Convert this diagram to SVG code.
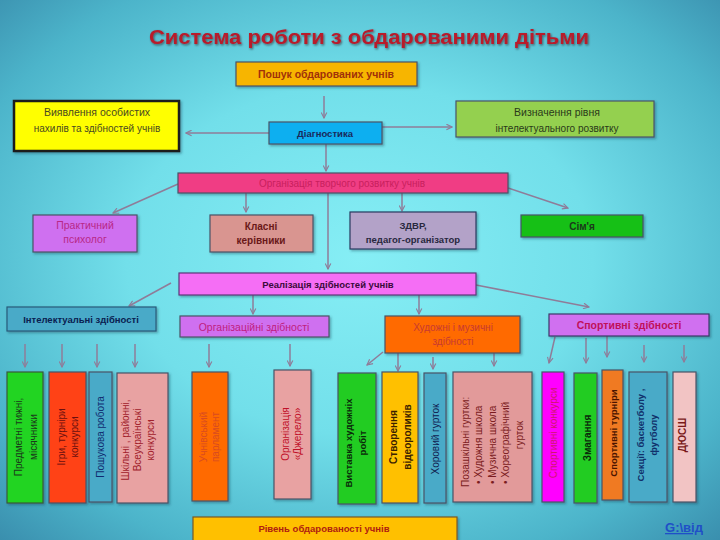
<svg xmlns="http://www.w3.org/2000/svg" width="720" height="540" viewBox="0 0 720 540">
<defs>
<radialGradient id="bg" cx="50%" cy="48%" r="72%">
<stop offset="0" stop-color="#86eef5"/>
<stop offset="0.45" stop-color="#72dfea"/>
<stop offset="0.8" stop-color="#4cb4ca"/>
<stop offset="1" stop-color="#3a8fae"/>
</radialGradient>
<filter id="sh" x="-10%" y="-10%" width="130%" height="140%">
<feDropShadow dx="1.5" dy="1.5" stdDeviation="1.2" flood-color="#1a3a4a" flood-opacity="0.4"/>
</filter>
<filter id="tsh" x="-5%" y="-20%" width="110%" height="150%">
<feDropShadow dx="1" dy="1.2" stdDeviation="0.8" flood-color="#2a0a0a" flood-opacity="0.6"/>
</filter>
<marker id="ah" viewBox="0 0 10 10" refX="9" refY="5" markerWidth="7" markerHeight="7" markerUnits="userSpaceOnUse" orient="auto">
<path d="M1,1 L9,5 L1,9" fill="none" stroke="#8f7c98" stroke-width="1.6"/>
</marker>
</defs>
<style>
text{font-family:"Liberation Sans","DejaVu Sans",sans-serif;font-size:10px;text-anchor:middle}
.b{font-weight:bold}
.box{stroke:#4a5468;stroke-width:1.2;filter:url(#sh)}
.con path{fill:none;stroke:#8f7c98;stroke-width:1.5;marker-end:url(#ah)}
.v{text-anchor:middle}
</style>
<rect width="720" height="540" fill="url(#bg)"/>
<text x="369" y="44" class="b" style="font-size:21px" fill="#b81a2c" filter="url(#tsh)" textLength="440" lengthAdjust="spacingAndGlyphs">Система роботи з обдарованими дітьми</text>

<g id="connectors" class="con">
<path d="M324,96 L324,118"/>
<path d="M269,133 L186,133"/>
<path d="M382,127 L452,127"/>
<path d="M326,144 L326,171"/>
<path d="M178,184 L113,213"/>
<path d="M246,193 L246,212"/>
<path d="M402,193 L402,211"/>
<path d="M508,188 L568,208"/>
<path d="M328,193 L328,269"/>
<path d="M171,283 L129,306"/>
<path d="M253,295 L253,314"/>
<path d="M419,295 L419,314"/>
<path d="M476,285 L589,307"/>
<path d="M25,344 L25,367"/>
<path d="M62,344 L62,367"/>
<path d="M97,344 L97,367"/>
<path d="M135,344 L135,367"/>
<path d="M209,344 L209,367"/>
<path d="M290,344 L290,366"/>
<path d="M383,352 L367,365"/>
<path d="M398,353 L398,371"/>
<path d="M433,357 L433,369"/>
<path d="M494,352 L494,366"/>
<path d="M555,337 L549,363"/>
<path d="M586,338 L586,363"/>
<path d="M607,336 L607,357"/>
<path d="M644,345 L644,362"/>
<path d="M684,345 L684,362"/>
</g>

<g id="poshuk"><rect class="box" x="236" y="62" width="181" height="24" fill="#f7b500"/><text x="326" y="78" class="b" style="font-size:10.5px" fill="#a0300a">Пошук обдарованих учнів</text></g>
<g id="vyiavlennia"><rect class="box" x="14" y="101" width="165" height="50" fill="#ffff00" stroke="#1a1a1a" style="stroke:#1a1a1a;stroke-width:2.5"/><text x="97" y="116" fill="#4a4a20" style="font-size:10.5px">Виявлення особистих</text><text x="97" y="131.5" fill="#4a4a20">нахилів та здібностей  учнів</text></g>
<g id="diahnostyka"><rect class="box" x="269" y="122" width="113" height="22" fill="#0aaff0"/><text x="325" y="137" class="b" style="font-size:9.5px" fill="#1a2a5a">Діагностика</text></g>
<g id="vyznachennia"><rect class="box" x="456" y="101" width="198" height="36" fill="#94d050"/><text x="557" y="115.5" fill="#2a3a1a" style="font-size:10.5px">Визначення рівня</text><text x="557" y="131.5" fill="#2a3a1a">інтелектуального розвитку</text></g>

<g id="orhanizatsiia"><rect class="box" x="178" y="173" width="330" height="20" fill="#f03c84"/><text x="342" y="186.5" fill="#c8205e">Організація творчого розвитку учнів</text></g>
<g id="psykholoh"><rect class="box" x="33" y="215" width="104" height="37" fill="#cf6ff0"/><text x="85" y="229" fill="#b82888" style="font-size:10.5px">Практичний</text><text x="85" y="243" fill="#b82888" style="font-size:10.5px">психолог</text></g>
<g id="klasni"><rect class="box" x="210" y="215" width="103" height="37" fill="#d99590"/><text x="261" y="229.5" class="b" fill="#6a1818">Класні</text><text x="261" y="243.5" class="b" fill="#6a1818">керівники</text></g>
<g id="zdvr"><rect class="box" x="350" y="212" width="126" height="37" fill="#b3a2c8" style="stroke:#2a3a60"/><text x="413" y="228.5" class="b" style="font-size:9.5px" fill="#28283e">ЗДВР,</text><text x="413" y="242.5" class="b" style="font-size:9.5px" fill="#28283e">педагог-організатор</text></g>
<g id="simia"><rect class="box" x="521" y="215" width="122" height="22" fill="#12c012"/><text x="582" y="229.5" class="b" fill="#1a3a1a">Сім'я</text></g>

<g id="realizatsiia"><rect class="box" x="179" y="273" width="297" height="22" fill="#f56ef5" style="stroke:#5a3a7a"/><text x="328" y="288" class="b" style="font-size:9.5px" fill="#3a0a3a">Реалізація здібностей учнів</text></g>

<g id="intelektualni"><rect class="box" x="7" y="307" width="149" height="24" fill="#4aaac8" style="stroke:#2a5a7a"/><text x="81" y="322.5" class="b" style="font-size:9.5px" fill="#0a2050">Інтелектуальні здібності</text></g>
<g id="orhanizatsiini"><rect class="box" x="180" y="316" width="149" height="21" fill="#cf6ff0"/><text x="254" y="330.5" fill="#c02080" style="font-size:10.5px">Організаційні здібності</text></g>
<g id="khudozhni"><rect class="box" x="385" y="316" width="135" height="37" fill="#ff6a00"/><text x="453" y="330.5" fill="#c83a30">Художні і музичні</text><text x="453" y="344.5" fill="#c83a30">здібності</text></g>
<g id="sportyvni"><rect class="box" x="549" y="314" width="160" height="22" fill="#d070f0" style="stroke:#3a3a6a"/><text x="629" y="328.5" class="b" style="font-size:10.5px" fill="#c0105a">Спортивні здібності</text></g>

<g id="b1"><rect class="box" x="7" y="372" width="36" height="131" fill="#22d422" style="stroke:#3a5a3a"/><text transform="translate(21.5,437) rotate(-90)" fill="#1a3a1a"><tspan x="0" dy="0">Предметні тижні,</tspan><tspan x="0" dy="15">місячники</tspan></text></g>
<g id="b2"><rect class="box" x="49" y="372" width="37" height="131" fill="#ff4212"/><text transform="translate(64.5,437) rotate(-90)" fill="#6a1010"><tspan x="0" dy="0">Ігри, турніри</tspan><tspan x="0" dy="13">конкурси</tspan></text></g>
<g id="b3"><rect class="box" x="89" y="372" width="23" height="130" fill="#4aaac8"/><text transform="translate(104,437) rotate(-90)" fill="#102a70">Пошукова робота</text></g>
<g id="b4"><rect class="box" x="117" y="373" width="51" height="130" fill="#e8a2a2"/><text transform="translate(128.5,440) rotate(-90)" fill="#a0202a"><tspan x="0" dy="0">Шкільні , районні,</tspan><tspan x="0" dy="12.5">Всеукраїнські</tspan><tspan x="0" dy="12.5">конкурси</tspan></text></g>
<g id="b5"><rect class="box" x="192" y="372" width="36" height="129" fill="#ff6a00"/><text transform="translate(206.5,437) rotate(-90)" fill="#d84a20"><tspan x="0" dy="0">Учнівський</tspan><tspan x="0" dy="12">парламент</tspan></text></g>
<g id="b6"><rect class="box" x="274" y="370" width="37" height="129" fill="#e8a2a2"/><text transform="translate(288.5,434) rotate(-90)" fill="#c01028"><tspan x="0" dy="0">Організація</tspan><tspan x="0" dy="12">«Джерело»</tspan></text></g>
<g id="b7"><rect class="box" x="338" y="373" width="38" height="131" fill="#22cc22"/><text transform="translate(351.5,443) rotate(-90)" class="b" style="font-size:9.5px" fill="#0a2a0a"><tspan x="0" dy="0">Виставка художніх</tspan><tspan x="0" dy="14">робіт</tspan></text></g>
<g id="b8"><rect class="box" x="382" y="372" width="36" height="131" fill="#ffc000"/><text transform="translate(396.5,437) rotate(-90)" class="b" fill="#3a2000"><tspan x="0" dy="0">Створення</tspan><tspan x="0" dy="14">відеороликів</tspan></text></g>
<g id="b9"><rect class="box" x="424" y="373" width="22" height="130" fill="#4aaac8"/><text transform="translate(438.5,439) rotate(-90)" fill="#102050">Хоровий гурток</text></g>
<g id="b10"><rect class="box" x="453" y="372" width="79" height="130" fill="#e29a9a"/><text transform="translate(468.5,487) rotate(-90)" style="text-anchor:start" fill="#7a1a20">Позашкільні гуртки:</text><text transform="translate(482,484) rotate(-90)" style="text-anchor:start" fill="#7a1a20">•  Художня школа</text><text transform="translate(495.5,484) rotate(-90)" style="text-anchor:start" fill="#7a1a20">•  Музична школа</text><text transform="translate(508.5,484) rotate(-90)" style="text-anchor:start" fill="#7a1a20">•  Хореографічний</text><text transform="translate(522.5,435) rotate(-90)" fill="#7a1a20">гурток</text></g>
<g id="b11"><rect class="box" x="542" y="372" width="22" height="130" fill="#ff00ff"/><text transform="translate(556.5,433) rotate(-90)" fill="#d0186a">Спортивні конкурси</text></g>
<g id="b12"><rect class="box" x="574" y="373" width="23" height="130" fill="#22cc22"/><text transform="translate(590.5,438) rotate(-90)" class="b" fill="#0a2a0a">Змагання</text></g>
<g id="b13"><rect class="box" x="602" y="370" width="21" height="130" fill="#f07a20"/><text transform="translate(616.5,433) rotate(-90)" class="b" style="font-size:9.5px" fill="#4a1400">Спортивні турніри</text></g>
<g id="b14"><rect class="box" x="629" y="372" width="38" height="130" fill="#4aaac8"/><text transform="translate(643.5,435) rotate(-90)" class="b" style="font-size:9.5px" fill="#10306a"><tspan x="0" dy="0">Секції: баскетболу ,</tspan><tspan x="0" dy="13">футболу</tspan></text></g>
<g id="b15"><rect class="box" x="673" y="372" width="23" height="130" fill="#f2c4c4"/><text transform="translate(685.5,435) rotate(-90)" class="b" fill="#7a1a1a">ДЮСШ</text></g>

<g id="riven"><rect class="box" x="193" y="517" width="264" height="24" fill="#ffc000" style="stroke:#7a5a20"/><text x="324" y="532" class="b" style="font-size:9.5px" fill="#b02010">Рівень обдарованості  учнів</text></g>
<g id="link"><text x="684" y="532" class="b" style="font-size:13px;text-decoration:underline" fill="#1f4fc8">G:\від</text></g>
</svg>
